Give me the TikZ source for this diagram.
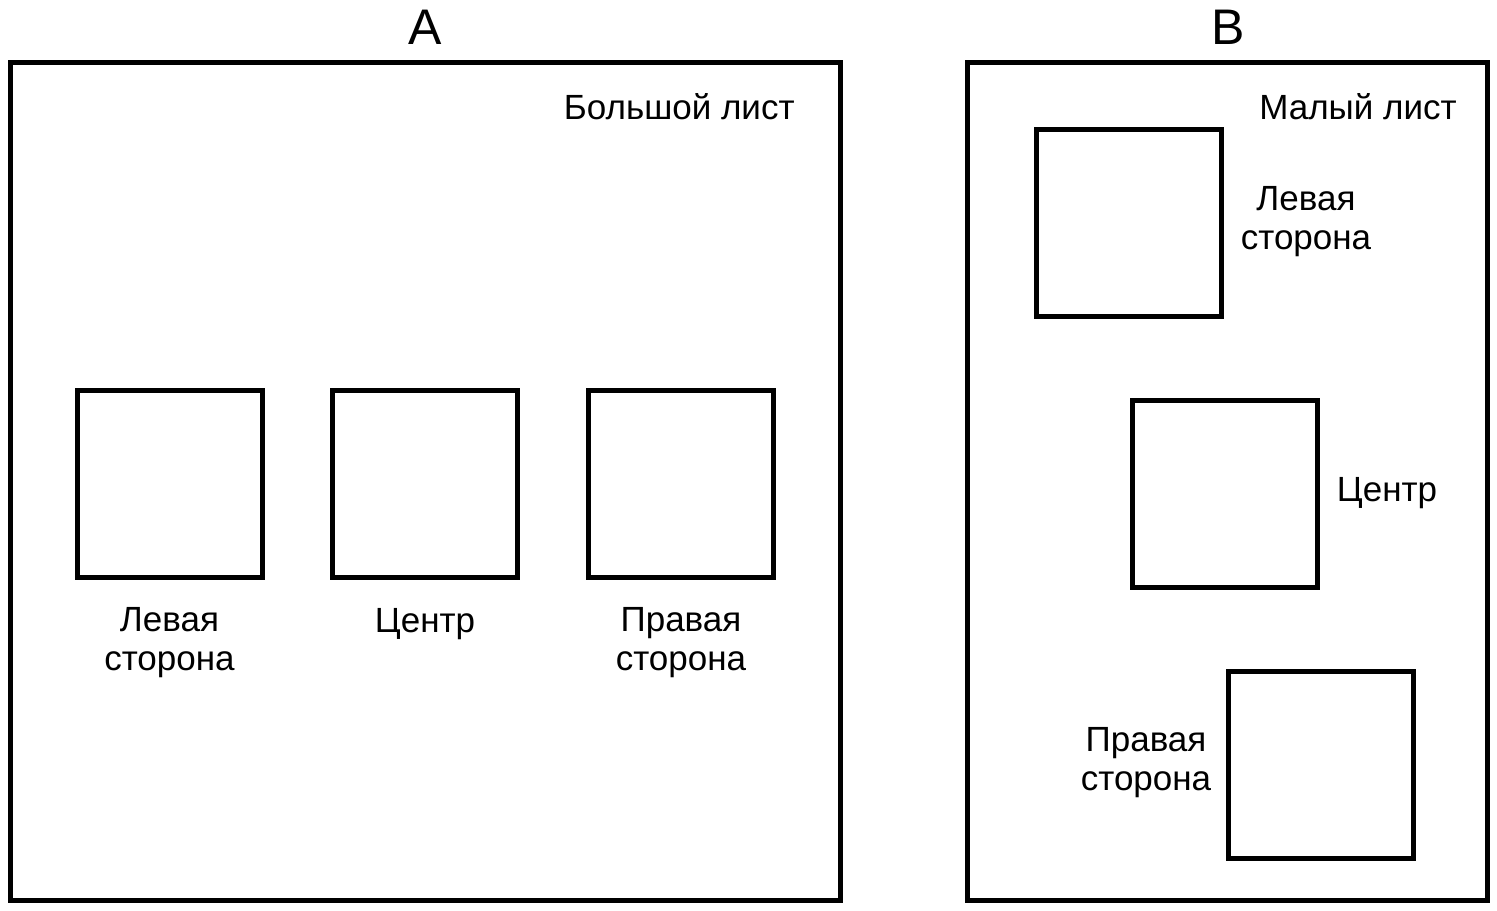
\documentclass[tikz,border=0pt]{standalone}
\usepackage{fontspec}
\setmainfont{Liberation Sans}
\usetikzlibrary{positioning}
\tikzset{
  sheet/.style={draw=black, line width=2.5pt, inner sep=0pt},
  spot/.style={draw=black, line width=2.5pt, inner sep=0pt,
    minimum width=92.5pt, minimum height=93.5pt},
  caption/.style={font=\fontsize{17.5}{19.5}\selectfont, align=center, inner sep=0pt},
  heading/.style={font=\fontsize{25}{28}\selectfont, inner sep=0pt}
}
\begin{document}
\begin{tikzpicture}[x=0.5pt,y=-0.5pt]
  \useasboundingbox (0,0) rectangle (1497,910);
  % sheet A
  \node[heading] (titleA) at (425,27) {A};
  \node[sheet, minimum width=415pt, minimum height=419pt] (bigsheet) at (425,481) {};
  \node[caption, anchor=east] (bigname) at (795,107) {Большой лист};
  \node[spot] (aleft) at (169.5,483.5) {};
  \node[spot] (acenter) at (425,483.5) {};
  \node[spot] (aright) at (681,483.5) {};
  \node[caption] (aleftlbl) at (169.5,643) {Левая\\сторона};
  \node[caption] (acenterlbl) at (425,624) {Центр};
  \node[caption] (arightlbl) at (681,643) {Правая\\сторона};
  % sheet B
  \node[heading] (titleB) at (1228,27) {B};
  \node[sheet, minimum width=260pt, minimum height=419pt] (smallsheet) at (1227,481) {};
  \node[caption, anchor=east] (smallname) at (1457,107) {Малый лист};
  \node[spot] (bleft) at (1128.5,222.5) {};
  \node[spot] (bcenter) at (1224.5,493.5) {};
  \node[spot] (bright) at (1321,764.5) {};
  \node[caption] (bleftlbl) at (1306,222) {Левая\\сторона};
  \node[caption] (bcenterlbl) at (1387,493) {Центр};
  \node[caption] (brightlbl) at (1146,763) {Правая\\сторона};
\end{tikzpicture}
\end{document}
